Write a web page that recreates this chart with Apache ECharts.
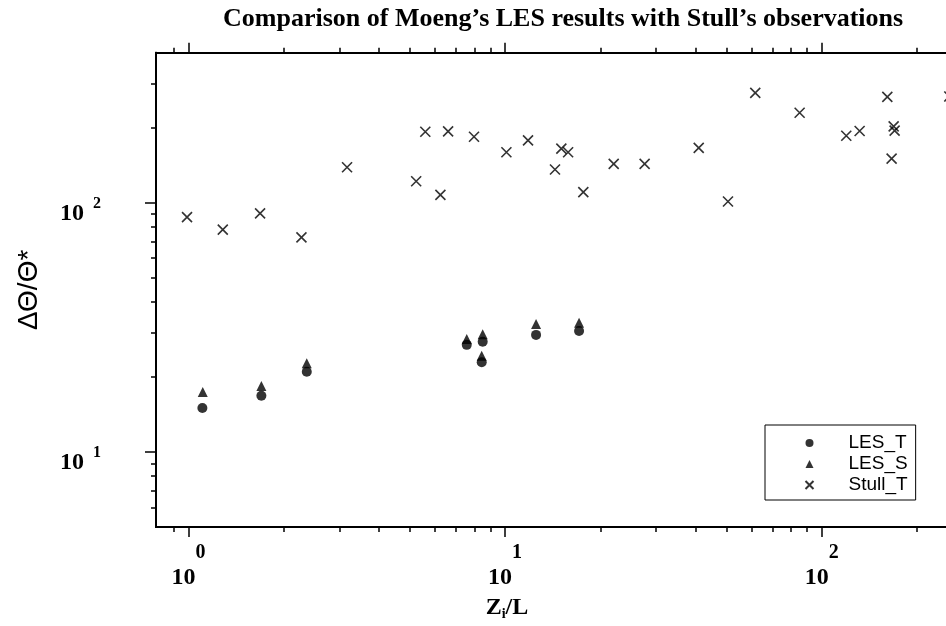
<!DOCTYPE html>
<html><head><meta charset="utf-8">
<script src="https://cdn.jsdelivr.net/npm/echarts@6/dist/echarts.min.js"></script>
<style>html,body{margin:0;padding:0;background:#fff}#c{width:946px;height:626px}</style>
</head><body><div id="c"></div>
<script>
// ---- data ----
const seriesNames = ['LES_T', 'LES_S', 'Stull_T'];
const lesT = [[1.107,15.0],[1.70,16.8],[2.365,21.0],[7.57,26.9],[8.50,27.7],[8.44,22.9],[12.53,29.5],[17.13,30.6]];
const lesS = [[1.11,17.4],[1.70,18.4],[2.365,22.7],[7.57,28.4],[8.50,29.7],[8.44,24.3],[12.53,32.6],[17.13,33.0]];
const stullT = [[0.99,87.6],[1.284,78.0],[1.684,90.6],[2.275,72.6],[3.17,138.8],[5.24,122],[5.60,192.8],[6.25,107.6],
  [6.61,193.4],[7.98,184],[10.1,159.4],[11.82,178],[14.38,135.9],[15.06,164.9],[15.82,159.4],[17.67,110.3],
  [22.04,143.2],[27.6,143.2],[40.9,166],[50.6,101.2],[61.7,276],[85.2,229.7],[119.6,185.8],[131.8,194.1],
  [161.2,266.1],[166.3,150.4],[168.8,202.5],[170,194.6],[253,267]];
// ---- ticks ----
const xMajorTicks = [1, 10, 100];
const xTickExponents = ['0', '1', '2'];
const xMinorTicks = [0.9, 2, 3, 4, 5, 6, 7, 8, 9, 20, 30, 40, 50, 60, 70, 80, 90, 200];
const yMajorTicks = [10, 100];
const yTickExponents = ['1', '2'];
const yMinorTicks = [6, 7, 8, 9, 20, 30, 40, 50, 60, 70, 80, 90, 200, 300];
const titleText = 'Comparison of Moeng\u2019s LES results with Stull\u2019s observations';
const yName = '\u0394\u0398/\u0398*';

const serif = 'Liberation Serif';
const sans = 'Liberation Sans';
const X = {min: 0.79, max: 247};
const Y = {min: 5, max: 400};

function expFmt(ticks, exps) {
  return v => {
    let i = ticks.findIndex(t => Math.abs(t - v) / t < 1e-6);
    if (i < 0) return '';
    return '{b|10}{s|' + exps[i] + '}';
  };
}
const xRich = {
  b: {fontFamily: serif, fontWeight: 'bold', fontSize: 24, color: '#000', verticalAlign: 'bottom'},
  s: {fontFamily: serif, fontWeight: 'bold', fontSize: 20, color: '#000', verticalAlign: 'top', padding: [0, 0, 27, 0]}
};
const yRich = {
  b: {fontFamily: serif, fontWeight: 'bold', fontSize: 24, color: '#000', verticalAlign: 'bottom'},
  s: {fontFamily: serif, fontWeight: 'bold', fontSize: 16, color: '#000', verticalAlign: 'top', padding: [0, 0, 14, 9]}
};
const axisLineStyle = {color: '#000', width: 2};

function xAx(pos, ticks, len, withLabel) {
  return {
    type: 'log', logBase: 10, min: X.min, max: X.max, position: pos, gridIndex: 0,
    splitLine: {show: false},
    axisLine: {show: true, onZero: false, lineStyle: axisLineStyle},
    axisTick: {show: true, inside: false, length: len, customValues: ticks, lineStyle: {color: '#000', width: 1.5}},
    axisLabel: withLabel ? {show: true, customValues: xMajorTicks, formatter: expFmt(xMajorTicks, xTickExponents), rich: xRich, margin: 16} : {show: false},
    name: withLabel ? '{b|Z}{sub|i}{b|/L}' : '',
    nameLocation: 'middle', nameGap: 68,
    nameTextStyle: {padding: [0, 88, 0, 0], rich: {
      b: {fontFamily: serif, fontWeight: 'bold', fontSize: 24, color: '#000'},
      sub: {fontFamily: serif, fontWeight: 'bold', fontSize: 14, color: '#000', padding: [12, 0, 0, 0]}
    }}
  };
}
function yAx(ticks, len, withLabel) {
  return {
    type: 'log', logBase: 10, min: Y.min, max: Y.max, position: 'left', gridIndex: 0,
    splitLine: {show: false},
    axisLine: {show: true, onZero: false, lineStyle: axisLineStyle},
    axisTick: {show: true, inside: false, length: len, customValues: ticks, lineStyle: {color: '#000', width: 1.5}},
    axisLabel: withLabel ? {show: true, customValues: yMajorTicks, formatter: expFmt(yMajorTicks, yTickExponents), rich: yRich, margin: 55, padding: [16, 0, 0, 0]} : {show: false},
    name: withLabel ? yName : '',
    nameLocation: 'middle', nameRotate: 90, nameGap: 113,
    nameTextStyle: {fontFamily: sans, fontSize: 28, color: '#000'}
  };
}

const chart = echarts.init(document.getElementById('c'), null, {renderer: 'canvas'});
chart.setOption({
  animation: false,
  backgroundColor: '#fff',
  title: {text: titleText, left: 218, top: 1,
    textStyle: {fontFamily: serif, fontWeight: 'bold', fontSize: 26, color: '#000'}},
  grid: {left: 156, top: 52.7, width: 790, height: 475.6, containLabel: false},
  xAxis: [
    xAx('bottom', xMajorTicks, 10, true),
    xAx('bottom', xMinorTicks, 5, false),
    xAx('top', xMajorTicks, 10, false),
    xAx('top', xMinorTicks, 5, false)
  ],
  yAxis: [
    yAx(yMajorTicks, 11, true),
    yAx(yMinorTicks, 5, false)
  ],
  legend: {
    data: seriesNames, orient: 'vertical', left: 765, top: 425,
    padding: [8, 8, 5, 38], itemWidth: 8, itemHeight: 8, itemGap: 1,
    borderColor: '#000', borderWidth: 1, backgroundColor: '#fff',
    textStyle: {fontFamily: sans, fontSize: 19, color: '#000', lineHeight: 20, padding: [0, 0, 0, 30]},
    selectedMode: false
  },
  series: [
    {name: seriesNames[0], type: 'scatter', data: lesT, symbol: 'circle', symbolSize: 10,
      itemStyle: {color: '#000'}, xAxisIndex: 0, yAxisIndex: 0},
    {name: seriesNames[1], type: 'scatter', data: lesS, symbol: 'triangle', symbolSize: 10,
      itemStyle: {color: '#000'}, xAxisIndex: 0, yAxisIndex: 0},
    {name: seriesNames[2], type: 'scatter', data: stullT, symbol: 'path://M0 0L10 10M10 0L0 10', symbolSize: 10,
      itemStyle: {color: 'none', borderColor: '#000', borderWidth: 1.6}, xAxisIndex: 0, yAxisIndex: 0, clip: false}
  ]
});
</script>
</body></html>
